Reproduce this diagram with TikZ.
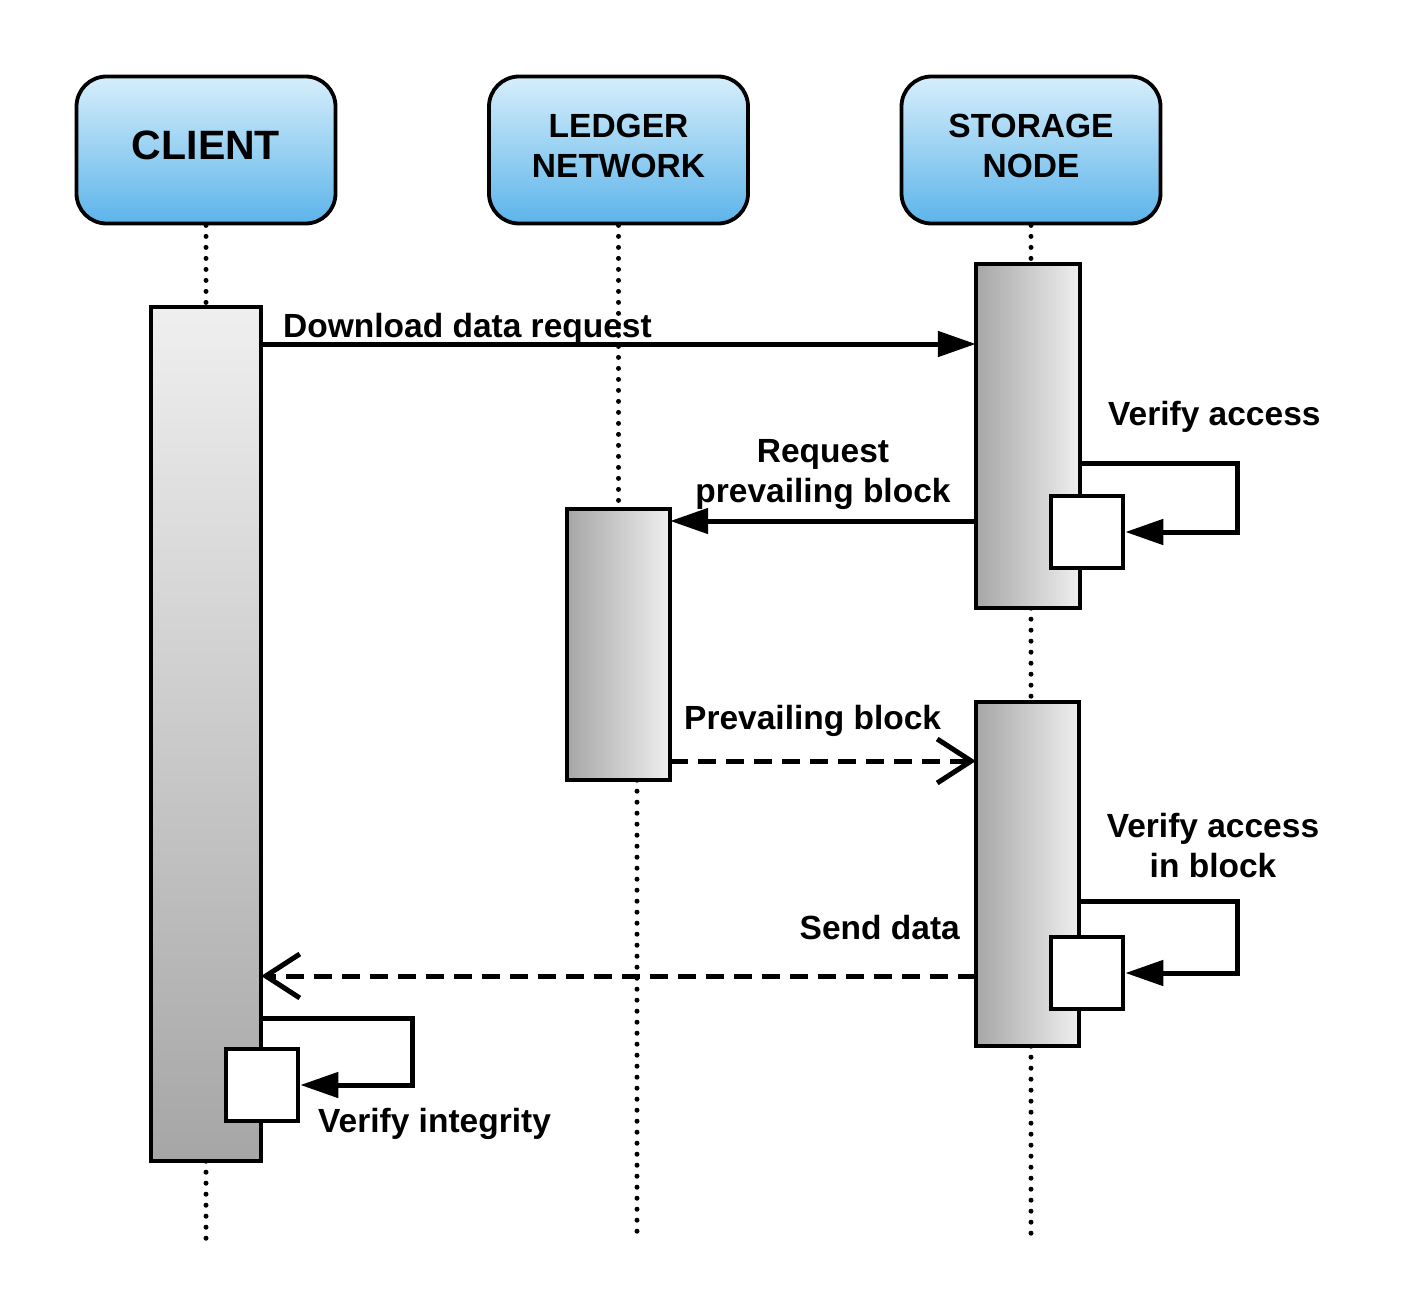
\documentclass[tikz,border=0pt]{standalone}
\usepackage{fontspec}
\setmainfont{Liberation Sans}
\usetikzlibrary{arrows.meta}
\definecolor{hdrtop}{HTML}{D6EEFB}
\definecolor{hdrbot}{HTML}{5CB4EA}
\definecolor{actlight}{HTML}{EFEFEF}
\definecolor{actdark}{HTML}{A6A6A6}
\newcommand{\lblfont}{\fontsize{33.5pt}{40pt}\selectfont\bfseries}
\newcommand{\clientfont}{\fontsize{41pt}{48pt}\selectfont\bfseries}
\begin{document}
\begin{tikzpicture}[x=1pt,y=-1pt,
  hdr/.style={draw, line width=3.8pt, rounded corners=30pt, top color=hdrtop, bottom color=hdrbot,
    minimum width=259pt, minimum height=147pt, inner sep=0pt, text depth=9pt, align=center, font=\lblfont},
  actbox/.style={draw, line width=4.7pt, inner sep=0pt, left color=actdark, right color=actlight},
  selfbox/.style={draw, line width=4.7pt, fill=white, inner sep=0pt, minimum width=72pt, minimum height=72pt},
  lifeline/.style={line width=5pt, dash pattern=on 0pt off 11pt, line cap=round},
  msg/.style={line width=5pt, -{Triangle[length=38pt,width=25pt]}},
  reply/.style={line width=5pt, dash pattern=on 18pt off 10pt, -{Straight Barb[length=34pt,width=44pt,line width=5pt]}},
  lbl/.style={font=\lblfont, inner sep=0pt, align=center}
]
\useasboundingbox (0,0) rectangle (1419,1316);
\fill[white] (0,0) rectangle (1419,1316);

% headers
\node[hdr, font=\clientfont, text depth=10pt] (client) at (206,150) {CLIENT};
\node[hdr] (ledger) at (618.5,150) {LEDGER\\NETWORK};
\node[hdr] (storage) at (1031,150) {STORAGE\\NODE};

% end coordinates of lifelines
\coordinate (cend) at (206,1240);
\coordinate (lend) at (637,1240);
\coordinate (send) at (1031,1240);

% activation box positions
\coordinate (capos) at (206,734);
\coordinate (lapos) at (618.5,644.5);
\coordinate (sa1pos) at (1028,436);
\coordinate (sa2pos) at (1027.5,874);

% lifelines (drawn first, under the boxes)
\path (capos) node[minimum width=110pt, minimum height=854pt, inner sep=0pt] (ca) {};
\path (lapos) node[minimum width=103pt, minimum height=271pt, inner sep=0pt] (la) {};
\path (sa1pos) node[minimum width=104pt, minimum height=344pt, inner sep=0pt] (sa1) {};
\path (sa2pos) node[minimum width=103pt, minimum height=344pt, inner sep=0pt] (sa2) {};
\draw[lifeline] (client.south) -- (ca.north);
\draw[lifeline] (ca.south) -- (cend);
\draw[lifeline] (ledger.south) -- (la.north);
\draw[lifeline] (la.south -| lend) -- (lend);
\draw[lifeline] (storage.south) -- (sa1.north -| storage.south);
\draw[lifeline] (sa1.south -| storage.south) -- (sa2.north -| storage.south);
\draw[lifeline] (sa2.south -| storage.south) -- (send);

% activation boxes
\node[actbox, top color=actlight, bottom color=actdark, minimum width=110pt, minimum height=854pt] at (capos) {};
\node[actbox, minimum width=103pt, minimum height=271pt] at (lapos) {};
\node[actbox, minimum width=104pt, minimum height=344pt] at (sa1pos) {};
\node[actbox, minimum width=103pt, minimum height=344pt] at (sa2pos) {};

% self boxes
\node[selfbox] (sb1) at (1087,532) {};
\node[selfbox] (sb2) at (1087,973) {};
\node[selfbox] (cb) at (262,1085) {};

% messages
\draw[msg] (ca.east |- 0,344) -- (sa1.west |- 0,344);
\draw[msg] (sa1.west |- 0,521) -- (la.east |- 0,521);
\draw[reply] (la.east |- 0,761) -- (sa2.west |- 0,761);
\draw[reply] (sa2.west |- 0,976) -- (ca.east |- 0,976);

% self loops
\draw[msg] (sa1.east |- 0,463) -- (1237,463) |- (sb1.east);
\draw[msg] (sa2.east |- 0,901) -- (1237,901) |- (sb2.east);
\draw[msg] (ca.east |- 0,1018) -- (412,1018) |- (cb.east);

% labels
\node[lbl, anchor=base west] (l1) at (283,337) {Download data request};
\node[lbl, anchor=base west] (l2) at (1108,425) {Verify access};
\node[lbl, anchor=base] (l3) at (823,502) {Request\\prevailing block};
\node[lbl, anchor=base west] (l4) at (684,729) {Prevailing block};
\node[lbl, anchor=base] (l5) at (1213,877) {Verify access\\in block};
\node[lbl, anchor=base east] (l6) at (960,939) {Send data};
\node[lbl, anchor=base west] (l7) at (318,1132) {Verify integrity};
\end{tikzpicture}
\end{document}
